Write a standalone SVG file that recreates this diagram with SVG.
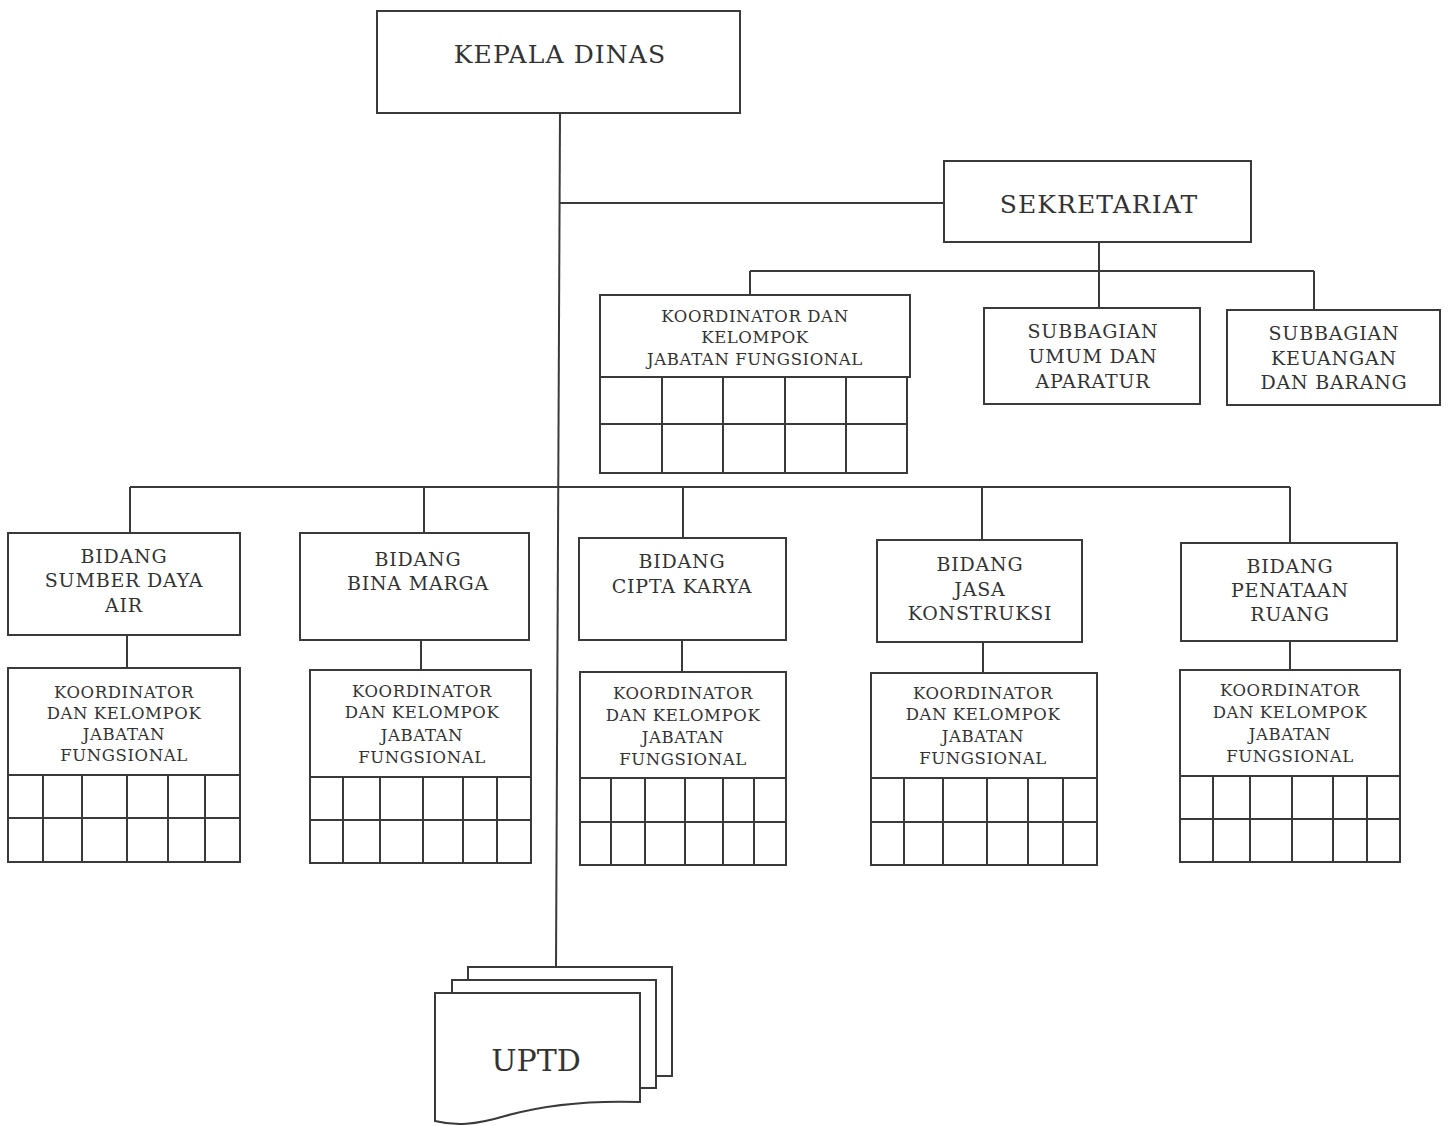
<svg xmlns="http://www.w3.org/2000/svg" width="1448" height="1126" viewBox="0 0 1448 1126">
<style>
.box{fill:#fff;stroke:#3a3a3a;stroke-width:2}
.ln{fill:none;stroke:#3a3a3a;stroke-width:2}
text{font-family:"DejaVu Serif","Liberation Serif",serif;fill:#333;text-anchor:middle}
.t1{font-size:25px;letter-spacing:1.1px}
.t2{font-size:19px;letter-spacing:0.8px}
.t3{font-size:16.5px;letter-spacing:0.6px}
.t4{font-size:30px}
</style>
<rect width="1448" height="1126" fill="#fff"/>
<g id="connectors">
<path class="ln" d="M560,113 L556,967"/>
<path class="ln" d="M559,203 H944"/>
<path class="ln" d="M1099,242 V308 M750,271 H1314 M750,271 V295 M1314,271 V310"/>
<path class="ln" d="M130,487 H1290 M130,487 V533 M424,487 V533 M683,487 V538 M982,487 V540 M1290,487 V543"/>
<path class="ln" d="M127,635 V668 M421,640 V670 M682,640 V672 M983,642 V672 M1290,641 V670"/>
</g>
<g id="kepala-dinas">
<rect class="box" x="377" y="11" width="363" height="102"/>
<text class="t1" x="560" y="63">KEPALA DINAS</text>
</g>
<g id="sekretariat">
<rect class="box" x="944" y="161" width="307" height="81"/>
<text class="t1" x="1099" y="213">SEKRETARIAT</text>
</g>
<g id="koordinator-sekretariat">
<rect class="box" x="600" y="295" width="310" height="82"/>
<text class="t3" x="755" y="322">KOORDINATOR DAN</text>
<text class="t3" x="755" y="343">KELOMPOK</text>
<text class="t3" x="755" y="365">JABATAN FUNGSIONAL</text>
<rect class="box" x="600" y="377" width="307" height="96"/>
<path class="ln" d="M600,424 H907 M662,377 V473 M723,377 V473 M785,377 V473 M846,377 V473"/>
</g>
<g id="subbagian-umum">
<rect class="box" x="984" y="308" width="216" height="96"/>
<text class="t2" x="1093" y="338">SUBBAGIAN</text>
<text class="t2" x="1093" y="363">UMUM DAN</text>
<text class="t2" x="1093" y="388">APARATUR</text>
</g>
<g id="subbagian-keuangan">
<rect class="box" x="1227" y="310" width="213" height="95"/>
<text class="t2" x="1334" y="340">SUBBAGIAN</text>
<text class="t2" x="1334" y="365">KEUANGAN</text>
<text class="t2" x="1334" y="389">DAN BARANG</text>
</g>
<g id="bidang-sda">
<rect class="box" x="8" y="533" width="232" height="102"/>
<text class="t2" x="124" y="563">BIDANG</text>
<text class="t2" x="124" y="587">SUMBER DAYA</text>
<text class="t2" x="124" y="612">AIR</text>
</g>
<g id="bidang-bina-marga">
<rect class="box" x="300" y="533" width="229" height="107"/>
<text class="t2" x="418" y="566">BIDANG</text>
<text class="t2" x="418" y="590">BINA MARGA</text>
</g>
<g id="bidang-cipta-karya">
<rect class="box" x="579" y="538" width="207" height="102"/>
<text class="t2" x="682" y="568">BIDANG</text>
<text class="t2" x="682" y="593">CIPTA KARYA</text>
</g>
<g id="bidang-jasa-konstruksi">
<rect class="box" x="877" y="540" width="205" height="102"/>
<text class="t2" x="980" y="571">BIDANG</text>
<text class="t2" x="980" y="596">JASA</text>
<text class="t2" x="980" y="620">KONSTRUKSI</text>
</g>
<g id="bidang-penataan-ruang">
<rect class="box" x="1181" y="543" width="216" height="98"/>
<text class="t2" x="1290" y="573">BIDANG</text>
<text class="t2" x="1290" y="597">PENATAAN</text>
<text class="t2" x="1290" y="621">RUANG</text>
</g>
<g id="koordinator-sda">
<rect class="box" x="8" y="668" width="232" height="107"/>
<text class="t3" x="124" y="698">KOORDINATOR</text>
<text class="t3" x="124" y="719">DAN KELOMPOK</text>
<text class="t3" x="124" y="740">JABATAN</text>
<text class="t3" x="124" y="761">FUNGSIONAL</text>
<rect class="box" x="8" y="775" width="232" height="87"/>
<path class="ln" d="M8,818 H240 M43,775 V862 M82,775 V862 M127,775 V862 M168,775 V862 M205,775 V862"/>
</g>
<g id="koordinator-bina-marga">
<rect class="box" x="310" y="670" width="221" height="107"/>
<text class="t3" x="422" y="697">KOORDINATOR</text>
<text class="t3" x="422" y="718">DAN KELOMPOK</text>
<text class="t3" x="422" y="741">JABATAN</text>
<text class="t3" x="422" y="763">FUNGSIONAL</text>
<rect class="box" x="310" y="777" width="221" height="86"/>
<path class="ln" d="M310,820 H531 M343,777 V863 M380,777 V863 M423,777 V863 M463,777 V863 M497,777 V863"/>
</g>
<g id="koordinator-cipta-karya">
<rect class="box" x="580" y="672" width="206" height="106"/>
<text class="t3" x="683" y="699">KOORDINATOR</text>
<text class="t3" x="683" y="721">DAN KELOMPOK</text>
<text class="t3" x="683" y="743">JABATAN</text>
<text class="t3" x="683" y="765">FUNGSIONAL</text>
<rect class="box" x="580" y="778" width="206" height="87"/>
<path class="ln" d="M580,822 H786 M611,778 V865 M645,778 V865 M685,778 V865 M723,778 V865 M754,778 V865"/>
</g>
<g id="koordinator-jasa-konstruksi">
<rect class="box" x="871" y="673" width="226" height="105"/>
<text class="t3" x="983" y="699">KOORDINATOR</text>
<text class="t3" x="983" y="720">DAN KELOMPOK</text>
<text class="t3" x="983" y="742">JABATAN</text>
<text class="t3" x="983" y="764">FUNGSIONAL</text>
<rect class="box" x="871" y="778" width="226" height="87"/>
<path class="ln" d="M871,822 H1097 M904,778 V865 M943,778 V865 M987,778 V865 M1028,778 V865 M1063,778 V865"/>
</g>
<g id="koordinator-penataan-ruang">
<rect class="box" x="1180" y="670" width="220" height="106"/>
<text class="t3" x="1290" y="696">KOORDINATOR</text>
<text class="t3" x="1290" y="718">DAN KELOMPOK</text>
<text class="t3" x="1290" y="740">JABATAN</text>
<text class="t3" x="1290" y="762">FUNGSIONAL</text>
<rect class="box" x="1180" y="776" width="220" height="86"/>
<path class="ln" d="M1180,819 H1400 M1213,776 V862 M1250,776 V862 M1292,776 V862 M1333,776 V862 M1367,776 V862"/>
</g>
<g id="uptd">
<rect class="box" x="468" y="967" width="204" height="109"/>
<rect class="box" x="452" y="980" width="204" height="108"/>
<path class="box" d="M435,993 H640 V1102 C580,1100 540,1106 505,1116 C475,1125 455,1126 435,1121 Z"/>
<text class="t4" x="536" y="1071">UPTD</text>
</g>
</svg>
